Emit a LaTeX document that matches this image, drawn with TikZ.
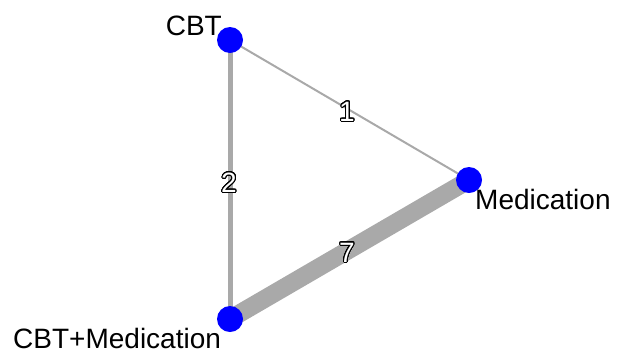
\documentclass[tikz,border=0pt]{standalone}
\usepackage{fontspec}
\setmainfont{Liberation Sans}
\usepackage{xcolor}
\usepackage{contour}
\contourlength{1pt}
\contournumber{32}
\definecolor{netblue}{RGB}{0,0,255}
\definecolor{netgrey}{RGB}{169,169,169}
\usetikzlibrary{positioning}
\tikzset{
  vertex/.style={circle,fill=netblue,minimum size=26pt,inner sep=0pt},
  vlab/.style={font=\fontsize{28}{31}\selectfont,inner sep=0pt,text=black},
  elab/.style={font=\fontsize{28}{31}\selectfont,inner sep=0pt},
  edge/.style={draw=netgrey},
}
% white digit with a dark outline
\newcommand{\edgenum}[1]{\contour{black}{\textcolor{white}{#1}}}

\begin{document}
\begin{tikzpicture}[x=1pt,y=-1pt]
    \useasboundingbox (0,0) rectangle (617,354);
    \coordinate (pc) at (230,40);
    \coordinate (pm) at (469,180);
    \coordinate (pb) at (230,319);
    \draw[edge,line width=2pt] (pc)--(pm);
    \draw[edge,line width=5pt] (pc)--(pb);
    \draw[edge,line width=18pt] (pm)--(pb);
    \node[vertex] (cbt) at (pc) {};
    \node[vertex] (med) at (pm) {};
    \node[vertex] (both) at (pb) {};
    \node[vlab,anchor=base east] (cbtlab) at (222,35) {CBT};
    \node[vlab,anchor=base west] (medlab) at (475,209) {Medication};
    \node[vlab,anchor=base west] (bothlab) at (13,348) {CBT+Medication};
    \node[elab] (w1) at (347,112) {\edgenum{1}};
    \node[elab] (w2) at (229,183) {\edgenum{2}};
    \node[elab] (w7) at (347,253) {\edgenum{7}};
  \end{tikzpicture}
\end{document}
